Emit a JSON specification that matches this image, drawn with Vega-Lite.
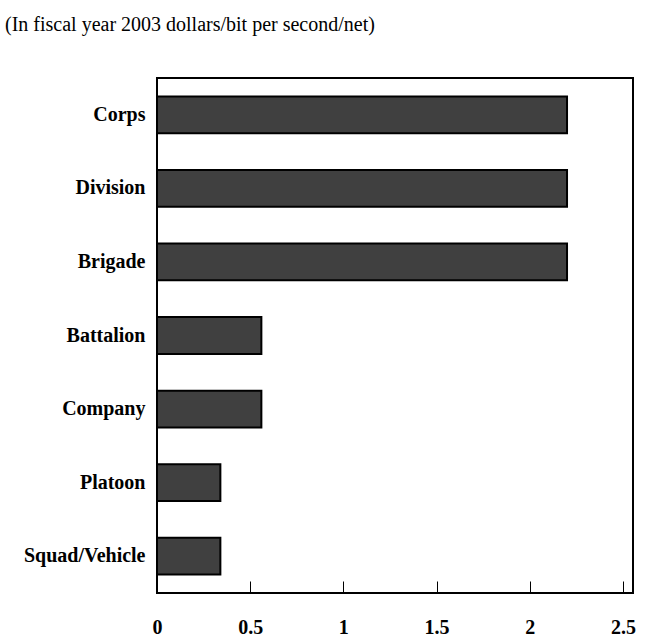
{
  "$schema": "https://vega.github.io/schema/vega-lite/v6.json",
  "width": 476,
  "height": 515,
  "autosize": {"type": "none"},
  "padding": {"left": 157, "top": 78, "right": 13, "bottom": 44},
  "background": "white",
  "title": {
    "text": "(In fiscal year 2003 dollars/bit per second/net)",
    "anchor": "start",
    "frame": "group",
    "dx": -152,
    "offset": 43,
    "font": "Liberation Serif",
    "fontSize": 20,
    "fontWeight": "normal",
    "color": "black"
  },
  "data": {
    "values": [
      {"level": "Corps", "cost": 2.2},
      {"level": "Division", "cost": 2.2},
      {"level": "Brigade", "cost": 2.2},
      {"level": "Battalion", "cost": 0.56},
      {"level": "Company", "cost": 0.56},
      {"level": "Platoon", "cost": 0.34},
      {"level": "Squad/Vehicle", "cost": 0.34}
    ]
  },
  "mark": {"type": "bar", "fill": "#404040", "stroke": "black", "strokeWidth": 2},
  "encoding": {
    "y": {
      "field": "level",
      "type": "nominal",
      "sort": null,
      "title": null,
      "scale": {"paddingInner": 0.5, "paddingOuter": 0.25},
      "axis": {"ticks": false, "domain": false, "labelPadding": 12}
    },
    "x": {
      "field": "cost",
      "type": "quantitative",
      "title": null,
      "scale": {"domain": [0, 2.554], "nice": false},
      "axis": {
        "values": [0, 0.5, 1, 1.5, 2, 2.5],
        "format": "~g",
        "tickSize": -12,
        "tickColor": "black",
        "tickWidth": 1,
        "domain": false,
        "grid": false,
        "labelPadding": 36,
        "labelFlush": false
      }
    }
  },
  "config": {
    "view": {"stroke": "black", "strokeWidth": 2},
    "axis": {
      "labelFont": "Liberation Serif",
      "labelFontWeight": "bold",
      "labelFontSize": 20,
      "labelColor": "black"
    }
  }
}
